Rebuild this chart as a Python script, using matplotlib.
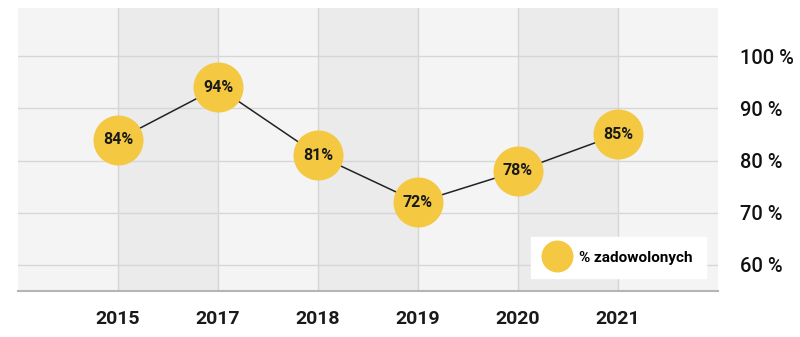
import matplotlib.pyplot as plt
from matplotlib.lines import Line2D

# Data
years = ['2015', '2017', '2018', '2019', '2020', '2021']
satisfied = [84, 94, 81, 72, 78, 85]
y_ticks = [60, 70, 80, 90, 100]

plt.rcParams['font.family'] = ['Roboto', 'DejaVu Sans']

fig = plt.figure(figsize=(8, 3.37), dpi=100)
ax = fig.add_axes([0.0225, 0.1365, 0.875, 0.8395])

x = list(range(len(years)))
ax.set_xlim(-1, len(years))
ax.set_ylim(55, 109.2)

# alternating column bands
for i in range(-1, len(years)):
    color = '#f4f4f4' if i % 2 else '#ebebeb'
    ax.axvspan(i, i + 1, color=color, zorder=0, lw=0)

for i in x:
    ax.axvline(i, color='#d6d6d6', lw=1, zorder=1)
for v in y_ticks:
    ax.axhline(v, color='#d6d6d6', lw=1, zorder=1)

ax.plot(x, satisfied, color='#222222', lw=1.1, zorder=2)
ax.plot(x, satisfied, 'o', ms=35, color='#f5c842', mec='#f5c842', zorder=3)
for xi, v in zip(x, satisfied):
    ax.text(xi, v, f'{v}%', ha='center', va='center', fontsize=11.5,
            fontweight='bold', color='#1a1a1a', zorder=4)

ax.set_xticks(x)
ax.set_xticklabels(years, fontsize=14, fontweight='bold', color='#1a1a1a')
ax.set_yticks(y_ticks)
ax.set_yticklabels([f'{v} %' for v in y_ticks], fontsize=14.5, fontweight=500,
                   color='#111111')
ax.yaxis.tick_right()
ax.tick_params(axis='both', length=0)
ax.tick_params(axis='x', pad=14)
ax.tick_params(axis='y', pad=16)

for s in ['top', 'left', 'right']:
    ax.spines[s].set_visible(False)
ax.spines['bottom'].set_color('#b5b5b5')
ax.spines['bottom'].set_linewidth(1.5)

handle = Line2D([], [], marker='o', ls='none', ms=22, color='#f5c842')
leg = ax.legend([handle], ['% zadowolonych'], loc='lower right',
                bbox_to_anchor=(0.983, 0.045), frameon=True, fancybox=False,
                fontsize=11, handletextpad=0.7, borderpad=0.9,
                handlelength=1.5, borderaxespad=0)
leg.get_frame().set_edgecolor('white')
leg.get_frame().set_facecolor('white')
leg.get_frame().set_alpha(1)
for t in leg.get_texts():
    t.set_fontweight('bold')

fig.savefig('out.png', dpi=100, facecolor='white')
